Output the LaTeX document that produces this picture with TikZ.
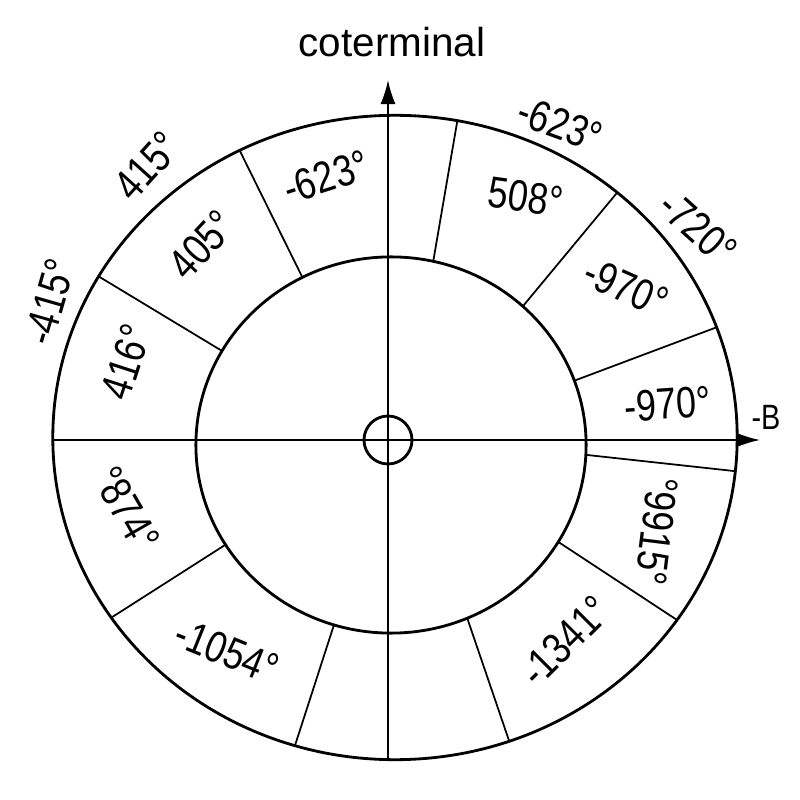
\documentclass[tikz,border=0pt]{standalone}
\usepackage{fontspec}
\setmainfont{Liberation Sans}
\newfontfamily\narrowfont[FakeStretch=0.82]{Liberation Sans}
\usetikzlibrary{arrows.meta,calc}
\tikzset{
	ring/.style={line width=0.8pt},
	divider/.style={line width=0.5pt},
	axis/.style={line width=0.55pt,-{Latex[length=2.4mm,width=1.5mm]}},
	degree/.style={font=\narrowfont\fontsize{12.5}{14}\selectfont,inner sep=0pt},
}
\begin{document}
\begin{tikzpicture}[x=0.01cm,y=0.01cm]
	\useasboundingbox (-388,-360) rectangle (412,440);
	\coordinate (oc) at (7,2.5);
	\coordinate (ic) at (3,-5);
	\coordinate (o) at (0,0);

	\draw [ring] (oc) ellipse [x radius=3.42cm, y radius=3.22cm];
	\draw [ring] (ic) ellipse [x radius=1.95cm, y radius=1.88cm];
	\draw [ring] (o) circle [radius=0.24cm];

	% dividers of the ring
	\foreach \n/\ta/\tb in {a/117/117, b/150/150, c/77.5/79.5, d/47.5/49.5, e/20/20,
			f/-3/-6, g/-31/-34.5, h/-67/-70.5, i/-107/-107, j/-148/-146} {
		\coordinate (in\n) at ($(ic)+(\ta:1.95cm and 1.88cm)$);
		\coordinate (out\n) at ($(oc)+(\tb:3.42cm and 3.22cm)$);
		\draw [divider] (in\n) -- (out\n);
	}

	\coordinate (south) at (0,-320);
	\coordinate (north) at (0,360);
	\coordinate (west) at (-335,0);
	\coordinate (east) at (372,0);
	\draw [axis] (south) -- (north);
	\draw [axis] (west) -- (east);

	\node [font=\fontsize{11.5}{14}\selectfont] (title) at (4,398) {coterminal};
	\node [font=\narrowfont\fontsize{10}{12}\selectfont] (minusB) at (378,23) {-B};

	% inside the ring
	\node [degree, rotate=18] (q1) at (-62,263) {-623°};
	\node [degree, rotate=47] (q2) at (-186,195) {405°};
	\node [degree, rotate=72] (q3) at (-262,78) {416°};
	\node [degree, rotate=-8] (q4) at (138,243) {508°};
	\node [degree, rotate=-24] (q5) at (238,153) {-970°};
	\node [degree, rotate=4] (q6) at (280,36) {-970°};
	\node [degree, rotate=-97] (q7) at (269,-91) {°9915°};
	\node [degree, rotate=45] (q8) at (177,-201) {-1341°};
	\node [degree, rotate=-22] (q9) at (-161,-211) {-1054°};
	\node [degree, rotate=-60] (q10) at (-261,-69) {°874°};

	% outside the ring
	\node [degree, rotate=48] (p1) at (-241,274) {415°};
	\node [degree, rotate=74] (p2) at (-338,138) {-415°};
	\node [degree, rotate=-20] (p3) at (172,316) {-623°};
	\node [degree, rotate=-42] (p4) at (310,212) {-720°};
\end{tikzpicture}
\end{document}
